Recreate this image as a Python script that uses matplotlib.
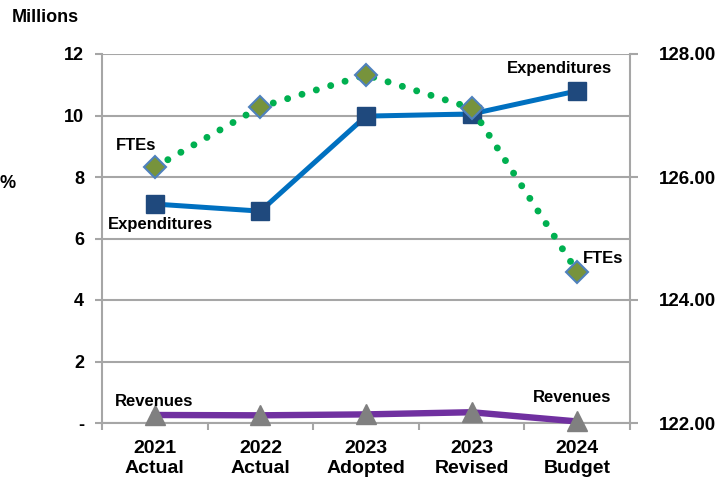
import matplotlib.pyplot as plt
import numpy as np

plt.rcParams['font.family'] = ['Liberation Sans', 'DejaVu Sans']
plt.rcParams['font.weight'] = 'bold'

# Budget summary by fiscal year
categories = ['2021\nActual', '2022\nActual', '2023\nAdopted', '2023\nRevised', '2024\nBudget']
expenditures = [7.12, 6.89, 9.98, 10.05, 10.8]       # millions
revenues = [0.26, 0.25, 0.28, 0.35, 0.05]             # millions
ftes = [126.16, 127.14, 127.66, 127.12, 124.46]       # positions

left_ticks = [0, 2, 4, 6, 8, 10, 12]
left_labels = ['-', '2', '4', '6', '8', '10', '12']
right_ticks = [122, 124, 126, 128]

GRID = '#a6a6a6'

fig = plt.figure(figsize=(7.26, 4.83), dpi=100)
ax = fig.add_axes([102 / 726, 1 - 423 / 483, 528 / 726, 369 / 483])
x = np.arange(len(categories))

# primary axis: money
ax.set_xlim(-0.5, len(categories) - 0.5)
ax.set_ylim(0, 12)
ax.set_yticks(left_ticks)
ax.set_yticklabels(left_labels)
ax.grid(axis='y', color=GRID, linewidth=1.5)
ax.set_axisbelow(True)
ax.set_xticks(x)
ax.set_xticklabels(categories, linespacing=1.22)
ax.set_xticks(np.arange(-0.5, len(categories)), minor=True)
ax.tick_params(axis='x', which='major', length=0, pad=12, labelsize=14)
ax.tick_params(axis='x', which='minor', length=5, width=1.5, color=GRID)
ax.tick_params(axis='y', length=5, width=1.5, color=GRID, pad=8, labelsize=13)
for side in ['left', 'bottom', 'right']:
    ax.spines[side].set_color(GRID)
    ax.spines[side].set_linewidth(1.5)
ax.spines['top'].set_visible(False)

ax.plot(x, expenditures, color='#0070C0', linewidth=3.6, marker='s', markersize=13,
        markerfacecolor='#1F497D', markeredgecolor='#1F497D', zorder=3)
ax.plot(x, revenues, color='#7030A0', linewidth=4.6, marker='^', markersize=14,
        markerfacecolor='#808080', markeredgecolor='#808080', zorder=3, clip_on=False)

# secondary axis: FTEs
ax2 = ax.twinx()
ax2.set_ylim(122, 128)
ax2.set_yticks(right_ticks)
ax2.set_yticklabels([f'{v:.2f}' for v in right_ticks])
ax2.tick_params(axis='y', length=6, width=1.5, color=GRID, pad=15, labelsize=13.5)
for side in ['left', 'bottom', 'right', 'top']:
    ax2.spines[side].set_visible(False)

ax2.plot(x, ftes, color='#00B050', linewidth=5, linestyle=(0, (0.01, 2.15)),
         dash_capstyle='round', marker='D', markersize=11,
         markerfacecolor='#77933C', markeredgecolor='#4F81BD', markeredgewidth=1.5)

# series labels at the first and last points
def tag(axis, xi, yi, text, dx, dy):
    axis.annotate(text, (xi, yi), xytext=(dx * 0.72, dy * 0.72), textcoords='offset points',
                  ha='center', va='center', fontsize=12, fontweight='bold')

tag(ax2, x[0], ftes[0], 'FTEs', -19, 22)
tag(ax2, x[-1], ftes[-1], 'FTEs', 26, 13)
tag(ax, x[0], expenditures[0], 'Expenditures', 6, -20)
tag(ax, x[-1], expenditures[-1], 'Expenditures', -18, 22)
tag(ax, x[0], revenues[0], 'Revenues', -1, 14)
tag(ax, x[-1], revenues[-1], 'Revenues', -5, 24)

fig.text(12 / 726, 1 - 17 / 483, 'Millions', ha='left', va='center', fontsize=13)
fig.text(0, 1 - 184 / 483, '%', ha='left', va='center', fontsize=13)

fig.savefig('out.png', dpi=100)
